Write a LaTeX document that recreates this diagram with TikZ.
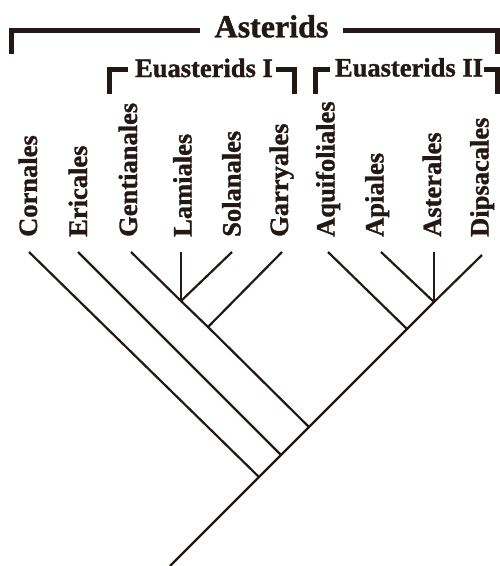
\documentclass[tikz,border=0pt]{standalone}
\usepackage{fontspec}
\setmainfont{Liberation Serif}[BoldFeatures={FakeBold=1.2}]
\usepackage{tikz}
\usetikzlibrary{positioning}
\definecolor{inkbrown}{RGB}{35,24,21}
\tikzset{
  branch/.style={inkbrown,line width=2.2pt},
  bracket/.style={inkbrown,line width=5pt},
  order/.style={rotate=90,anchor=base west,inner sep=0pt,text=inkbrown,
    font=\fontsize{26.5}{30}\selectfont\bfseries},
  clade/.style={anchor=base,inner sep=0pt,text=inkbrown,
    font=\fontsize{26.5}{30}\selectfont\bfseries}
}

\begin{document}
\begin{tikzpicture}[x=1pt,y=-1pt]
    \useasboundingbox (0,0) rectangle (500,566);

    % Clade titles
    \node[clade,font=\fontsize{32}{36}\selectfont\bfseries] (asterids) at (271.5,37.3) {Asterids};
    \node[clade] (euastI) at (204,77) {Euasterids I};
    \node[clade] (euastII) at (409,76.5) {Euasterids II};

    % Brackets
    \draw[bracket] (11,54) |- (200,30.5);
    \draw[bracket] (343,30.5) -| (497.5,54);
    \draw[bracket] (109.5,94) |- (128,69.5);
    \draw[bracket] (276,69.5) -| (294.5,94);
    \draw[bracket] (315.5,94) |- (330,69.5);
    \draw[bracket] (484,69.5) -| (497.5,94);

    % Order names
    \foreach \name/\x in {Cornales/37, Ericales/87, Gentianales/137, Lamiales/191.5,
        Solanales/240.5, Garryales/288, Aquifoliales/334.5, Apiales/383.5,
        Asterales/441, Dipsacales/488.5} {
      \node[order] (\name) at (\x,237) {\name};
    }

    % Tips
    \foreach \name/\x/\y in {Cornales/29/252, Ericales/78/252, Gentianales/131/252,
        Lamiales/181/252, Solanales/232/252, Garryales/282/252, Aquifoliales/328/252,
        Apiales/381/252, Asterales/434/252, Dipsacales/482/255} {
      \coordinate (t\name) at (\x,\y);
    }

    % Internal nodes
    \coordinate (root) at (170,566);
    \coordinate (jCorn) at (259,477);
    \coordinate (jEric) at (281,455);
    \coordinate (jEuas) at (309,427);
    \coordinate (jGarr) at (208,327);
    \coordinate (jLami) at (181,301);
    \coordinate (jAqui) at (407,329);
    \coordinate (jAste) at (434,302);

    % Tree
    \draw[branch] (root) -- (jCorn) -- (jEric) -- (jEuas) -- (jAqui) -- (jAste) -- (tDipsacales);
    \draw[branch] (jCorn) -- (tCornales);
    \draw[branch] (jEric) -- (tEricales);
    \draw[branch] (jEuas) -- (jGarr) -- (jLami) -- (tGentianales);
    \draw[branch] (jLami) -- (tLamiales);
    \draw[branch] (jLami) -- (tSolanales);
    \draw[branch] (jGarr) -- (tGarryales);
    \draw[branch] (jAqui) -- (tAquifoliales);
    \draw[branch] (jAste) -- (tApiales);
    \draw[branch] (jAste) -- (tAsterales);
  \end{tikzpicture}
\end{document}
